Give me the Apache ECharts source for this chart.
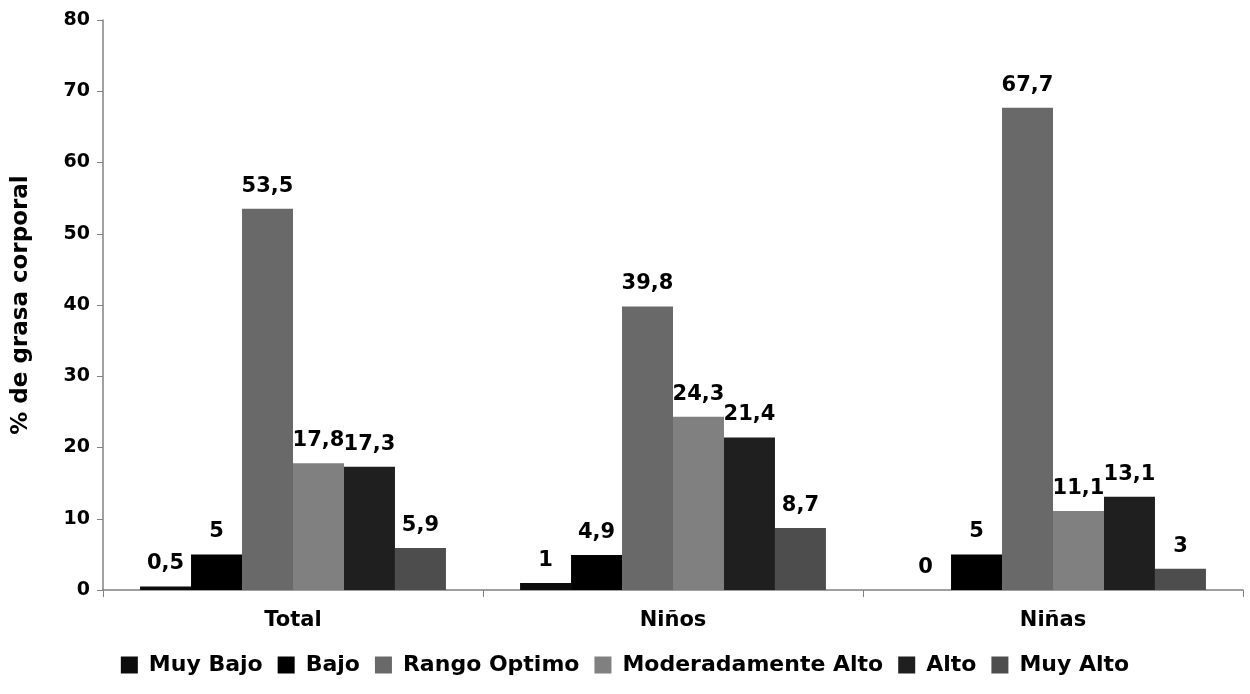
<!DOCTYPE html>
<html>
<head>
<meta charset="utf-8">
<script src="https://cdn.jsdelivr.net/npm/echarts@6/dist/echarts.min.js"></script>
<style>
html,body{margin:0;padding:0;background:#fff;}
#chart{width:1250px;height:694px;}
</style>
</head>
<body>
<div id="chart"></div>
<script>
// Body-fat classification by group
const categories = ['Total', 'Niños', 'Niñas'];
const seriesNames = ['Muy Bajo', 'Bajo', 'Rango Optimo', 'Moderadamente Alto', 'Alto', 'Muy Alto'];
const muyBajo = [0.5, 1, 0];
const bajo = [5, 4.9, 5];
const rangoOptimo = [53.5, 39.8, 67.7];
const moderadamenteAlto = [17.8, 24.3, 11.1];
const alto = [17.3, 21.4, 13.1];
const muyAlto = [5.9, 8.7, 3];
const yTicks = [0, 10, 20, 30, 40, 50, 60, 70, 80];

const values = [muyBajo, bajo, rangoOptimo, moderadamenteAlto, alto, muyAlto];
const colors = ['#0c0c0c', '#000000', '#696969', '#808080', '#1f1f1f', '#4d4d4d'];
const font = 'DejaVu Sans, Verdana, sans-serif';

const chart = echarts.init(document.getElementById('chart'), null, {renderer: 'canvas'});
chart.setOption({
  animation: false,
  backgroundColor: '#ffffff',
  grid: {left: 103, right: 7, top: 20, bottom: 104, containLabel: false},
  legend: {
    bottom: 13,
    left: 'center',
    itemWidth: 17,
    itemHeight: 17,
    itemGap: 15,
    icon: 'rect',
    textStyle: {fontFamily: font, fontWeight: 'bold', fontSize: 22, color: '#000', padding: [0, 0, 0, 6]},
    data: seriesNames
  },
  xAxis: {
    type: 'category',
    data: categories,
    axisLine: {lineStyle: {color: '#808080', width: 1.5}},
    axisTick: {show: true, length: 7, lineStyle: {color: '#808080'}},
    axisLabel: {fontFamily: font, fontWeight: 'bold', fontSize: 21, color: '#000', margin: 20}
  },
  yAxis: {
    type: 'value',
    min: yTicks[0],
    max: yTicks[yTicks.length - 1],
    interval: 10,
    name: '% de grasa corporal',
    nameLocation: 'middle',
    nameGap: 70,
    nameTextStyle: {fontFamily: font, fontWeight: 'bold', fontSize: 23, color: '#000'},
    axisLine: {show: true, lineStyle: {color: '#808080', width: 1.5}},
    axisTick: {show: true, inside: false, length: 6, lineStyle: {color: '#808080'}},
    splitLine: {show: false},
    axisLabel: {fontFamily: font, fontWeight: 'bold', fontSize: 19, color: '#000', margin: 13}
  },
  series: seriesNames.map((name, i) => ({
    name: name,
    type: 'bar',
    data: values[i],
    barGap: '0%',
    barCategoryGap: '19.5%',
    itemStyle: {color: colors[i]},
    label: {
      show: true,
      position: 'top',
      distance: 12,
      fontFamily: font,
      fontWeight: 'bold',
      fontSize: 21,
      color: '#000',
      formatter: p => String(p.value).replace('.', ',')
    }
  }))
});
</script>
</body>
</html>
